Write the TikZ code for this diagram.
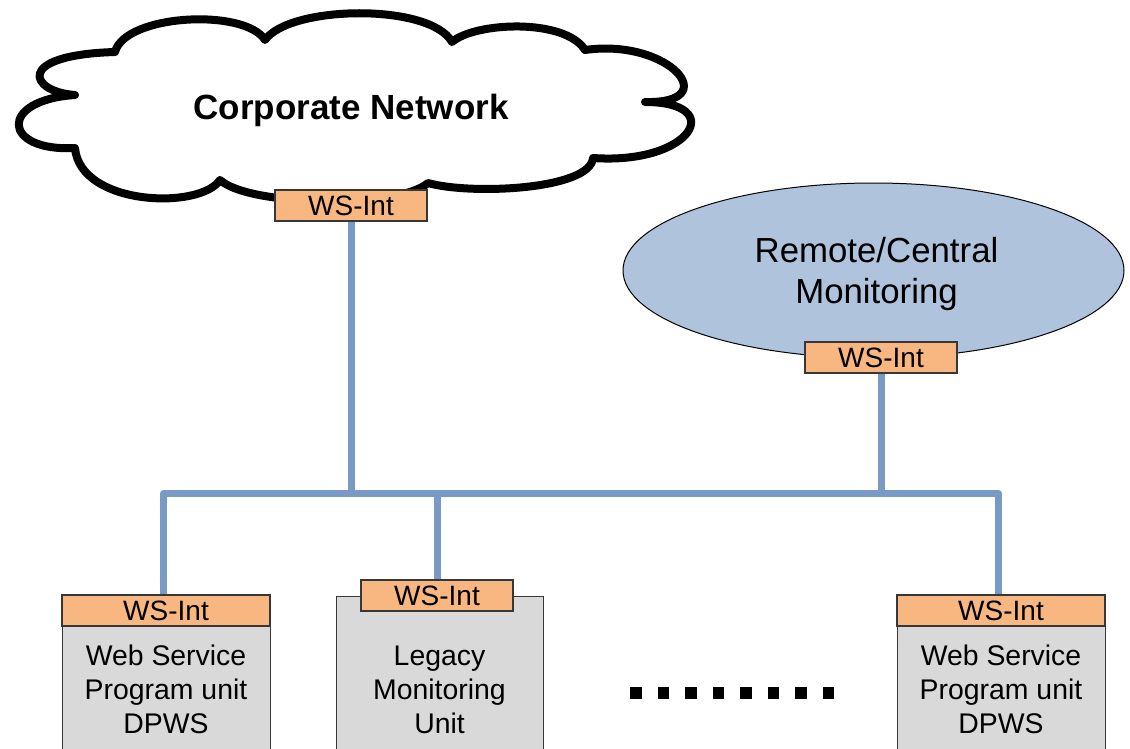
\documentclass[tikz,border=0pt]{standalone}
\usepackage{fontspec}
\setmainfont{Liberation Sans}
\usetikzlibrary{shapes.geometric}

\definecolor{buslink}{RGB}{122,154,198}
\definecolor{wsorange}{RGB}{248,182,128}
\definecolor{unitgray}{RGB}{217,217,217}
\definecolor{monblue}{RGB}{176,195,221}
\definecolor{edgegray}{RGB}{55,55,55}

\tikzset{
  cloudline/.style={draw=black, fill=white, line width=8pt, line join=round},
  monitor/.style={ellipse, draw=black, line width=1pt, fill=monblue,
    minimum width=501pt, minimum height=175pt, inner sep=0pt},
  wsint/.style={rectangle, draw=edgegray, line width=1.3pt, fill=wsorange,
    minimum width=152pt, minimum height=31pt, inner sep=0pt,
    font=\fontsize{28}{33}\selectfont},
  unitbody/.style={rectangle, draw=edgegray, line width=1.3pt, fill=unitgray,
    minimum height=170pt, inner sep=0pt, anchor=north west},
  unittext/.style={align=center, inner sep=0pt, font=\fontsize{28.4}{34}\selectfont},
  link/.style={draw=buslink, line width=7pt, line join=round},
  dotmark/.style={fill=black}
}

\begin{document}
\begin{tikzpicture}[x=1pt, y=-1pt]
\useasboundingbox (0,0) rectangle (1130,749);
\clip (0,0) rectangle (1130,749);

% corporate network cloud
\draw[cloudline] (115,52)
  .. controls (125,14) and (245,8) .. (265,40)
  .. controls (290,5) and (430,3) .. (452,42)
  .. controls (475,22) and (565,18) .. (585,50)
  .. controls (670,38) and (725,104) .. (645,102)
  .. controls (728,102) and (692,165) .. (593,158)
  .. controls (590,190) and (470,195) .. (428,183)
  .. controls (400,208) and (250,207) .. (220,180)
  .. controls (200,210) and (80,206) .. (75,148)
  .. controls (2,152) and (-2,100) .. (75,95)
  .. controls (30,92) and (13,55) .. (115,52) -- cycle;
\node[anchor=base, inner sep=0pt, font=\bfseries\fontsize{35}{42}\selectfont]
  (corp) at (351,120) {Corporate Network};
\node[wsint] (wsCloud) at (351,205.5) {WS-Int};

% remote / central monitoring
\node[monitor] (monitor) at (873.5,270.5) {};
\node[align=center, inner sep=0pt, font=\fontsize{34.8}{41}\selectfont]
  (montext) at (876.5,273.6) {Remote/Central\\Monitoring};
\node[wsint] (wsRemote) at (881,357.5) {WS-Int};

% field units
\node[unitbody, minimum width=208pt] (unit1) at (62,596) {};
\node[unittext] (text1) at (166,689) {Web Service\\Program unit\\DPWS};
\node[wsint, minimum width=208pt] (ws1) at (166,610.5) {WS-Int};

\node[unitbody, minimum width=207pt] (unit2) at (336,596) {};
\node[unittext] (text2) at (439.5,690) {Legacy\\Monitoring\\Unit};
\node[wsint] (ws2) at (437,595.5) {WS-Int};

\node[unitbody, minimum width=208pt] (unit3) at (897,596) {};
\node[unittext] (text3) at (1001,689) {Web Service\\Program unit\\DPWS};
\node[wsint, minimum width=208pt] (ws3) at (1001,610.5) {WS-Int};

% ellipsis between units
\foreach \i in {0,...,7}
  \fill[dotmark] (630+27.5*\i,687) rectangle ++(11.5,11.5);

% network bus
\coordinate (bus) at (0,493.5);
\coordinate (d1) at ([xshift=-2.5pt]ws1.north);
\coordinate (d3) at ([xshift=-2.5pt]ws3.north);
\draw[link] (d1) -- (d1 |- bus) -- (d3 |- bus) -- (d3);
\draw[link] (wsCloud.south) -- (wsCloud.south |- bus);
\draw[link] (wsRemote.south) -- (wsRemote.south |- bus);
\draw[link] (ws2.north) -- (ws2.north |- bus);
\end{tikzpicture}
\end{document}
